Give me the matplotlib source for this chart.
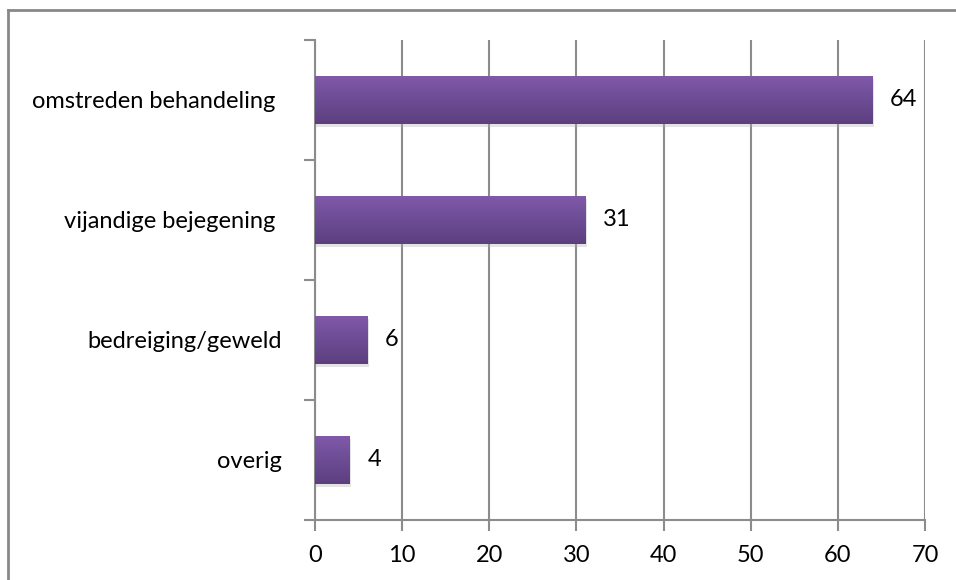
import numpy as np
import matplotlib.pyplot as plt
from matplotlib import patheffects as pe
from matplotlib.lines import Line2D
from matplotlib.colors import LinearSegmentedColormap

categories = ['omstreden behandeling ', 'vijandige bejegening ', 'bedreiging/geweld', 'overig']
values = [64, 31, 6, 4]
xticks = [0, 10, 20, 30, 40, 50, 60, 70]

plt.rcParams['font.family'] = ['Lato', 'DejaVu Sans']
grey = '#8c8c8c'

fig = plt.figure(figsize=(9.56, 5.8), dpi=100)
ax = fig.add_axes([315 / 956, 1 - 520 / 580, 610 / 956, 480 / 580])

y = np.arange(len(categories))[::-1]
bars = ax.barh(y, values, height=0.4, color='#6f4f99', linewidth=0, zorder=3,
               path_effects=[pe.SimplePatchShadow(offset=(1, -2), shadow_rgbFace='#b0b0b0', alpha=0.35), pe.Normal()])

# vertical gradient inside each bar
grad = np.linspace(0, 1, 100).reshape(-1, 1)
cmap = LinearSegmentedColormap.from_list('pur', ['#5d3f80', '#6c4c94', '#8059a9'])
for b, v, yy in zip(bars, values, y):
    im = ax.imshow(grad, extent=(0, v, yy - 0.2, yy + 0.2), origin='lower', aspect='auto',
                   cmap=cmap, zorder=4)
    im.set_clip_path(b)
    ax.text(v + 2, yy, str(v), va='center', ha='left', fontsize=17, zorder=5)

ax.set_xlim(0, 70)
ax.set_ylim(-0.5, len(categories) - 0.5)
ax.set_xticks(xticks)
ax.set_yticks(y)
ax.set_yticklabels(categories)
ax.set_yticks(np.arange(-0.5, len(categories), 1), minor=True)
ax.tick_params(axis='y', which='major', length=0, pad=24, labelsize=17)
ax.tick_params(axis='y', which='minor', length=8, width=1.5, color=grey)
ax.tick_params(axis='x', length=8, width=1.5, color=grey, labelsize=17, pad=10)
ax.grid(axis='x', color=grey, linewidth=1.5, zorder=0)
ax.set_axisbelow(True)
for s in ['top', 'right']:
    ax.spines[s].set_visible(False)
for s in ['left', 'bottom']:
    ax.spines[s].set_color(grey)
    ax.spines[s].set_linewidth(1.5)

# outer chart border (left and top edges visible)
fig.add_artist(Line2D([8 / 956, 8 / 956], [0, 1 - 10 / 580], color='#888888', linewidth=2, transform=fig.transFigure))
fig.add_artist(Line2D([8 / 956, 1], [1 - 10 / 580, 1 - 10 / 580], color='#888888', linewidth=2, transform=fig.transFigure))

fig.savefig('out.png', dpi=100)
